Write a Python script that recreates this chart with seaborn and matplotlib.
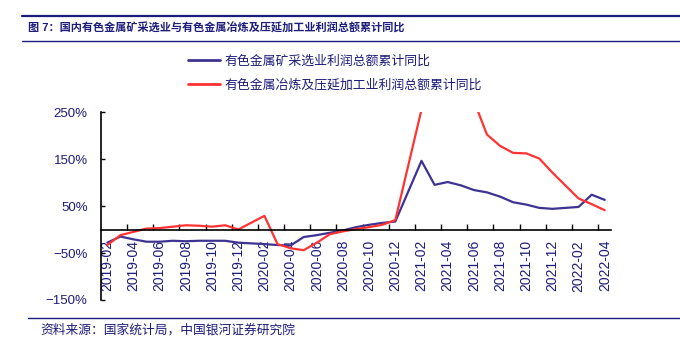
import numpy as np
import pandas as pd
import matplotlib
matplotlib.use("Agg")
import matplotlib.pyplot as plt
from matplotlib.lines import Line2D
from matplotlib.ticker import PercentFormatter, FixedLocator, NullFormatter
import seaborn as sns

# Months on the category axis (Jan figures are not published separately)
months = (
    [f"2019-{m:02d}" for m in range(2, 13)]
    + [f"2020-{m:02d}" for m in range(1, 13)]
    + [f"2021-{m:02d}" for m in range(1, 13)]
    + [f"2022-{m:02d}" for m in range(1, 5)]
)

mining_label = "有色金属矿采选业利润总额累计同比"
smelting_label = "有色金属冶炼及压延加工业利润总额累计同比"

# Cumulative YoY profit growth, %
mining = [
    -28, -15, -21, -26, -26, -24, -25, -24, -24, -24, -28,
    np.nan, -31, -33, -34, -16, -12, -7, -2, 5, 10, 14, 17,
    np.nan, 146, 95, 101, 94, 84, 79, 70, 58, 53, 46, 44,
    np.nan, 48, 74, 63,
]
smelting = [
    -33, -12, -5, 2, 3, 6, 9, 8, 6, 9, 0,
    np.nan, 29, -31, -40, -44, -28, -10, -4, 1, 5, 10, 20,
    np.nan, 255, 380, 330, 300, 274, 202, 178, 163, 162, 151, 121,
    np.nan, 66, 54, 41,
]

yticks = [250, 150, 50, -50, -150]

navy = "#1c1c7c"
blue = "#3d3391"
red = "#ff3333"

sns.set_theme(style="white")
plt.rcParams["font.family"] = ["Liberation Sans", "Noto Sans CJK SC", "DejaVu Sans"]
plt.rcParams["axes.unicode_minus"] = True

pos = np.arange(len(months))
df = pd.DataFrame({
    "pos": np.concatenate([pos, pos]),
    "value": mining + smelting,
    "series": [mining_label] * len(months) + [smelting_label] * len(months),
})

W, H = 680, 346
fig = plt.figure(figsize=(W / 100, H / 100), dpi=100)
fig.patch.set_facecolor("white")

left, right, top, bottom = 100.8, 611.3, 112, 300
ax = fig.add_axes([left / W, 1 - bottom / H, (right - left) / W, (bottom - top) / H])
ax.set_facecolor("white")

sns.lineplot(
    data=df, x="pos", y="value", hue="series",
    palette={mining_label: blue, smelting_label: red},
    hue_order=[mining_label, smelting_label],
    estimator=None, sort=True, linewidth=1.6, legend=False, ax=ax,
)

ax.set_xlim(-0.5, len(months) - 0.5)
ax.set_ylim(-150, 250)
ax.set_xlabel("")
ax.set_ylabel("")

# y axis
ax.set_yticks(yticks)
ax.yaxis.set_major_formatter(PercentFormatter(xmax=100, decimals=0))
ax.tick_params(axis="y", direction="in", length=3, width=1, color="black",
               labelsize=9.5, labelcolor=navy, pad=9.5, left=True)

# x axis sits on the zero line; tick marks between categories, labels every 2 months
ax.spines["bottom"].set_position(("data", 0))
label_pos = pos[::2]
ax.set_xticks(label_pos)
ax.set_xticklabels([months[i] for i in label_pos], rotation=90)
ax.tick_params(axis="x", which="major", length=0, labelsize=10,
               labelcolor=navy, pad=7.5)
ax.xaxis.set_minor_locator(FixedLocator(np.arange(-0.5, len(months), 2)[1:]))
ax.xaxis.set_minor_formatter(NullFormatter())
ax.tick_params(axis="x", which="minor", direction="in", length=4, width=1,
               color="black", bottom=True)
for lab in ax.get_xticklabels():
    lab.set_va("top")

for s in ["top", "right"]:
    ax.spines[s].set_visible(False)
for s in ["left", "bottom"]:
    ax.spines[s].set_color("black")
    ax.spines[s].set_linewidth(1.2)
ax.grid(False)

# Legend
handles = [Line2D([], [], color=blue, lw=2), Line2D([], [], color=red, lw=2)]
fig.legend(handles, [mining_label, smelting_label],
           loc="upper left", bbox_to_anchor=(188 / W, 1 - 55 / H),
           frameon=False, fontsize=9.3, labelcolor=navy,
           handlelength=2.5, handletextpad=0.35, labelspacing=0.9,
           borderaxespad=0, borderpad=0)

# Header / footer rules and text
fig.add_artist(Line2D([22 / W, 1], [1 - 15.7 / H] * 2, color=navy, lw=1.6))
fig.add_artist(Line2D([22 / W, 1], [1 - 40.5 / H] * 2, color=navy, lw=1.0))
fig.add_artist(Line2D([28 / W, 1], [1 - 318 / H] * 2, color=navy, lw=1.0))

fig.text(28 / W, 1 - 28 / H,
         "图 7：国内有色金属矿采选业与有色金属冶炼及压延加工业利润总额累计同比",
         fontsize=8.0, fontweight="bold", color=navy, va="center", ha="left")
fig.text(40 / W, 1 - 330 / H, "资料来源：国家统计局，中国银河证券研究院",
         fontsize=9.2, color=navy, va="center", ha="left", style="italic")

fig.savefig("out.png", dpi=100, facecolor="white")
